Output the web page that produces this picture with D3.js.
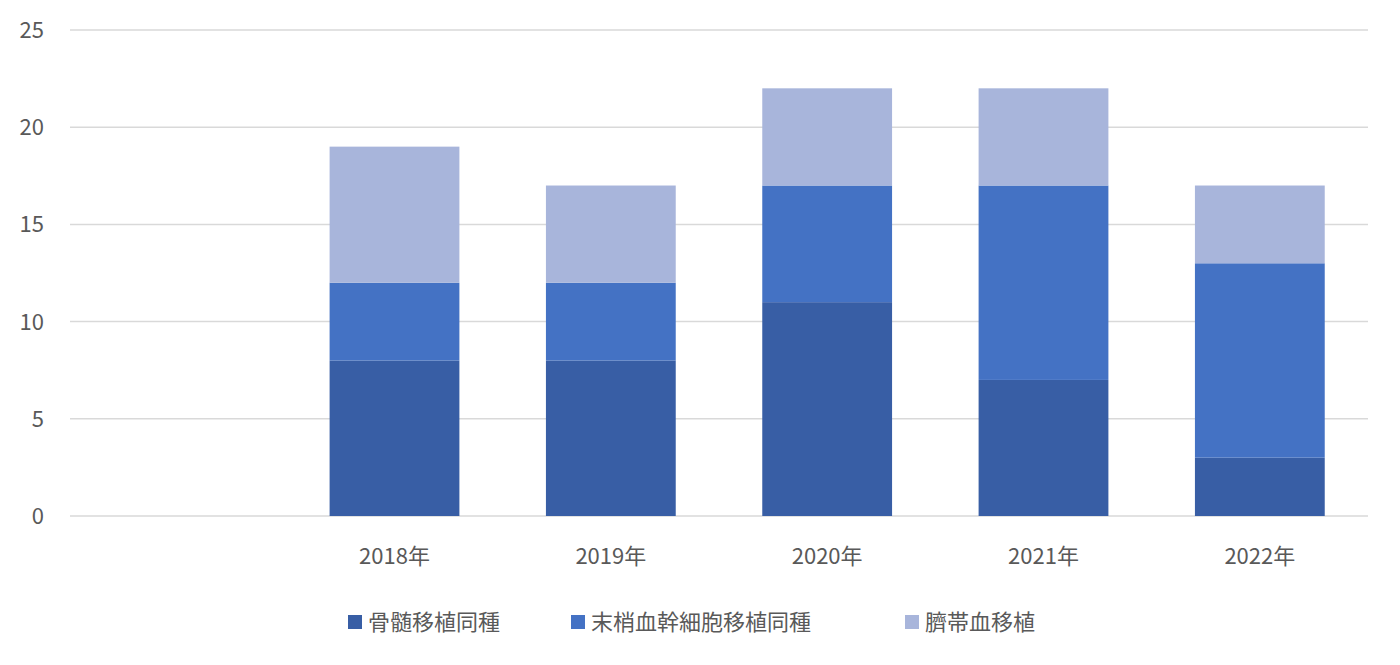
<!DOCTYPE html>
<html><head><meta charset="utf-8">
<script src="https://cdn.jsdelivr.net/npm/d3@7"></script>
<style>body{margin:0;background:#fff}text{font-family:"Noto Sans CJK JP","Noto Sans",sans-serif}</style>
</head><body><svg id="chart"></svg>
<script>
const categories = ['', '2018年', '2019年', '2020年', '2021年', '2022年'];
const seriesNames = ['骨髄移植同種', '末梢血幹細胞移植同種', '臍帯血移植'];
const boneMarrow = [0, 8, 8, 11, 7, 3];
const peripheral = [0, 4, 4, 6, 10, 10];
const cordBlood = [0, 7, 5, 5, 5, 4];
const yTicks = [0, 5, 10, 15, 20, 25];
const colours = ['#385EA5', '#4472C4', '#A8B5DB'];

const W = 1400, H = 665;
const svg = d3.select('#chart').attr('width', W).attr('height', H);
const x = d3.scaleBand().domain(categories.map((c, i) => i)).range([70, 1368]).paddingInner(0.4).paddingOuter(0.2);
const y = d3.scaleLinear().domain([0, 25]).range([516, 30]);

svg.append('g').selectAll('line').data(yTicks).join('line')
  .attr('x1', 70).attr('x2', 1368).attr('y1', d => y(d)).attr('y2', d => y(d))
  .attr('stroke', '#d9d9d9').attr('stroke-width', 1.5);
svg.append('g').selectAll('text').data(yTicks).join('text')
  .attr('x', 44).attr('y', d => y(d) + 8).attr('text-anchor', 'end')
  .attr('font-size', 22).attr('fill', '#595959').text(d => d);

const rows = categories.map((c, i) => ({i, a: boneMarrow[i], b: peripheral[i], c: cordBlood[i]}));
const stacked = d3.stack().keys(['a', 'b', 'c'])(rows);
svg.append('g').selectAll('g').data(stacked).join('g').attr('fill', (d, k) => colours[k])
  .selectAll('rect').data(d => d).join('rect')
  .attr('x', d => x(d.data.i)).attr('width', x.bandwidth())
  .attr('y', d => y(d[1])).attr('height', d => y(d[0]) - y(d[1]));

svg.append('g').selectAll('text').data(categories).join('text')
  .attr('x', (d, i) => x(i) + x.bandwidth() / 2).attr('y', 564).attr('text-anchor', 'middle')
  .attr('font-size', 22).attr('fill', '#595959').text(d => d);

const lx = [348, 571, 905];
const lg = svg.append('g').selectAll('g').data(seriesNames).join('g')
  .attr('transform', (d, k) => `translate(${lx[k]},622)`);
lg.append('rect').attr('x', 0).attr('y', -7).attr('width', 14).attr('height', 14).attr('fill', (d, k) => colours[k]);
lg.append('text').attr('x', 20).attr('y', 8).attr('font-size', 22).attr('fill', '#595959').text(d => d);
</script></body></html>
